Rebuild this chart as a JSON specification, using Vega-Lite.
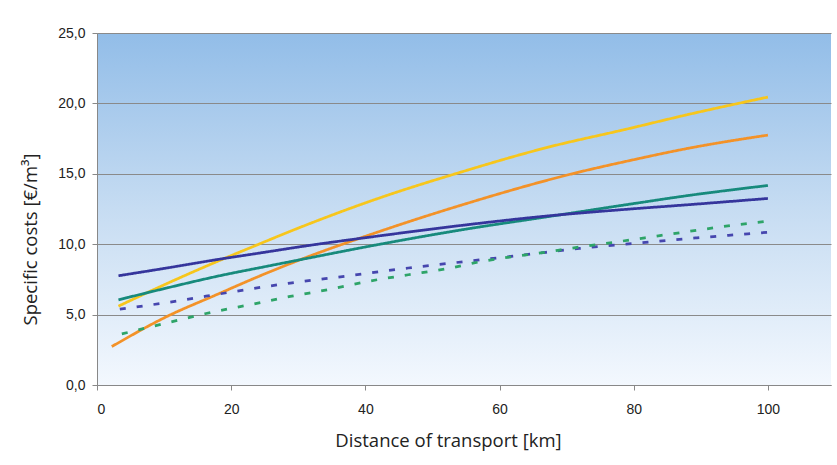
{
  "$schema": "https://vega.github.io/schema/vega-lite/v6.json",
  "width": 734,
  "height": 352,
  "autosize": {"type": "none"},
  "padding": {"left": 97, "top": 33, "right": 6, "bottom": 80},
  "background": "#ffffff",
  "config": {
    "view": {
      "stroke": null,
      "fill": {"gradient": "linear", "x1": 0, "y1": 0, "x2": 0, "y2": 1,
        "stops": [{"offset": 0, "color": "#92bde8"}, {"offset": 0.5, "color": "#c6dcf2"}, {"offset": 1, "color": "#f3f8fe"}]}
    },
    "axis": {
      "domainColor": "#888888",
      "tickColor": "#888888",
      "gridColor": "#8a8a8a",
      "gridOpacity": 1,
      "labelFont": "Liberation Sans",
      "labelFontSize": 14,
      "labelColor": "#222222",
      "titleFont": "Open Sans",
      "titleFontWeight": "normal",
      "titleColor": "#222222"
    }
  },
  "data": {
    "values": [
      {"s": "yellow", "km": 3.2, "cost": 5.6},
      {"s": "yellow", "km": 10.4, "cost": 7.2},
      {"s": "yellow", "km": 17.8, "cost": 8.75},
      {"s": "yellow", "km": 23.1, "cost": 9.8},
      {"s": "yellow", "km": 30.3, "cost": 11.2},
      {"s": "yellow", "km": 42.2, "cost": 13.3},
      {"s": "yellow", "km": 54.1, "cost": 15.1},
      {"s": "yellow", "km": 67.0, "cost": 16.86},
      {"s": "yellow", "km": 79.0, "cost": 18.18},
      {"s": "yellow", "km": 88.0, "cost": 19.2},
      {"s": "yellow", "km": 100.0, "cost": 20.45},
      {"s": "orange", "km": 2.2, "cost": 2.73},
      {"s": "orange", "km": 10.4, "cost": 4.86},
      {"s": "orange", "km": 17.8, "cost": 6.41},
      {"s": "orange", "km": 25.3, "cost": 7.95},
      {"s": "orange", "km": 30.3, "cost": 8.9},
      {"s": "orange", "km": 42.2, "cost": 10.92},
      {"s": "orange", "km": 54.6, "cost": 12.82},
      {"s": "orange", "km": 71.5, "cost": 15.08},
      {"s": "orange", "km": 79.5, "cost": 15.95},
      {"s": "orange", "km": 88.0, "cost": 16.8},
      {"s": "orange", "km": 100.0, "cost": 17.75},
      {"s": "teal", "km": 3.2, "cost": 6.05},
      {"s": "teal", "km": 10.4, "cost": 6.89},
      {"s": "teal", "km": 17.8, "cost": 7.71},
      {"s": "teal", "km": 25.3, "cost": 8.43},
      {"s": "teal", "km": 30.3, "cost": 8.9},
      {"s": "teal", "km": 42.2, "cost": 10.0},
      {"s": "teal", "km": 54.6, "cost": 11.04},
      {"s": "teal", "km": 67.0, "cost": 11.94},
      {"s": "teal", "km": 79.5, "cost": 12.85},
      {"s": "teal", "km": 88.0, "cost": 13.45},
      {"s": "teal", "km": 100.0, "cost": 14.17},
      {"s": "navy", "km": 3.2, "cost": 7.76},
      {"s": "navy", "km": 10.4, "cost": 8.31},
      {"s": "navy", "km": 17.8, "cost": 8.9},
      {"s": "navy", "km": 25.3, "cost": 9.45},
      {"s": "navy", "km": 30.3, "cost": 9.82},
      {"s": "navy", "km": 42.2, "cost": 10.6},
      {"s": "navy", "km": 54.6, "cost": 11.35},
      {"s": "navy", "km": 67.0, "cost": 12.0},
      {"s": "navy", "km": 79.5, "cost": 12.5},
      {"s": "navy", "km": 88.0, "cost": 12.8},
      {"s": "navy", "km": 100.0, "cost": 13.25},
      {"s": "navydash", "km": 3.4, "cost": 5.39},
      {"s": "navydash", "km": 10.9, "cost": 5.89},
      {"s": "navydash", "km": 20.6, "cost": 6.65},
      {"s": "navydash", "km": 28.8, "cost": 7.24},
      {"s": "navydash", "km": 37.2, "cost": 7.74},
      {"s": "navydash", "km": 46.4, "cost": 8.31},
      {"s": "navydash", "km": 54.7, "cost": 8.76},
      {"s": "navydash", "km": 63.7, "cost": 9.24},
      {"s": "navydash", "km": 71.9, "cost": 9.7},
      {"s": "navydash", "km": 80.7, "cost": 10.09},
      {"s": "navydash", "km": 89.4, "cost": 10.45},
      {"s": "navydash", "km": 100.0, "cost": 10.85},
      {"s": "greendash", "km": 3.7, "cost": 3.63},
      {"s": "greendash", "km": 10.7, "cost": 4.44},
      {"s": "greendash", "km": 16.1, "cost": 5.06},
      {"s": "greendash", "km": 23.3, "cost": 5.75},
      {"s": "greendash", "km": 28.8, "cost": 6.29},
      {"s": "greendash", "km": 34.4, "cost": 6.77},
      {"s": "greendash", "km": 40.4, "cost": 7.36},
      {"s": "greendash", "km": 46.4, "cost": 7.83},
      {"s": "greendash", "km": 51.9, "cost": 8.24},
      {"s": "greendash", "km": 57.4, "cost": 8.78},
      {"s": "greendash", "km": 66.4, "cost": 9.4},
      {"s": "greendash", "km": 71.9, "cost": 9.8},
      {"s": "greendash", "km": 77.4, "cost": 10.16},
      {"s": "greendash", "km": 83.9, "cost": 10.61},
      {"s": "greendash", "km": 89.4, "cost": 10.99},
      {"s": "greendash", "km": 94.9, "cost": 11.35},
      {"s": "greendash", "km": 100.0, "cost": 11.63}
    ]
  },
  "mark": {"type": "line", "strokeWidth": 2.75, "interpolate": "monotone", "strokeCap": "butt"},
  "encoding": {
    "x": {
      "field": "km", "type": "quantitative",
      "scale": {"domain": [0, 109.4], "nice": false, "zero": false},
      "axis": {"values": [0, 20, 40, 60, 80, 100], "grid": false, "tickSize": 5, "labelPadding": 12,
        "title": "Distance of transport [km]", "titleFontSize": 18.5, "titlePadding": 15,
        "titleX": 351, "titleAnchor": "start", "titleAlign": "center"}
    },
    "y": {
      "field": "cost", "type": "quantitative",
      "scale": {"domain": [0, 25], "nice": false},
      "axis": {"values": [0, 5, 10, 15, 20, 25], "grid": true, "tickSize": 5, "labelPadding": 7,
        "labelExpr": "replace(format(datum.value, '.1f'), '.', ',')",
        "title": "Specific costs [€/m³]", "titleFontSize": 18.5, "titlePadding": 17,
        "titleY": 206, "titleAnchor": "start", "titleAlign": "center"}
    },
    "color": {
      "field": "s", "type": "nominal", "legend": null,
      "scale": {
        "domain": ["yellow", "orange", "teal", "navy", "navydash", "greendash"],
        "range": ["#f7c61c", "#f39228", "#178a7c", "#35359c", "#4646ae", "#2ea468"]
      }
    },
    "strokeDash": {
      "field": "s", "type": "nominal", "legend": null,
      "scale": {
        "domain": ["yellow", "orange", "teal", "navy", "navydash", "greendash"],
        "range": [[1, 0], [1, 0], [1, 0], [1, 0], [6, 11], [6, 11]]
      }
    }
  }
}
